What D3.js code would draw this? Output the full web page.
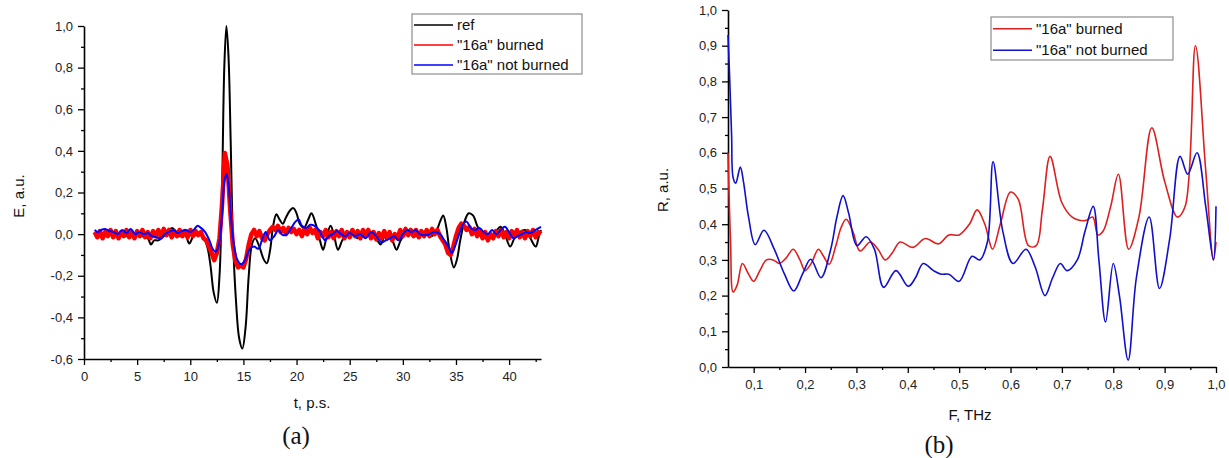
<!DOCTYPE html>
<html>
<head>
<meta charset="utf-8">
<script src="https://cdn.jsdelivr.net/npm/d3@7/dist/d3.min.js"></script>
<style>
  html, body { margin: 0; padding: 0; background: #fff; }
  svg { display: block; }
  .tick text { font-family: "Liberation Sans", Arial, sans-serif; }
</style>
</head>
<body>
<svg id="chart" width="1229" height="458"></svg>
<script>
// ---------------- DATA: panel (a) time domain ----------------
const seriesNamesA = ['ref', '"16a" burned', '"16a" not burned'];
const colorsA = ['#000000', '#ff0000', '#0000ff'];

const tRef = [1.0,1.5,2.0,2.5,3.0,3.5,4.0,4.5,5.0,5.5,6.0,6.3,6.6,7.0,7.5,8.0,8.3,8.7,9.0,9.5,9.9,10.3,10.8,11.2,11.6,11.9,12.2,12.5,12.75,13.0,13.2,13.4,13.6,13.8,14.0,14.3,14.6,14.9,15.2,15.5,15.8,16.1,16.5,16.9,17.2,17.5,17.8,18.1,18.4,18.7,19.0,19.4,19.7,20.0,20.3,20.7,21.1,21.4,21.8,22.2,22.5,22.8,23.2,23.5,23.9,24.3,24.7,25.2,25.7,26.2,26.7,27.2,27.6,27.9,28.3,28.7,29.1,29.4,29.8,30.2,30.7,31.2,31.7,32.2,32.7,33.2,33.5,33.8,34.1,34.4,34.8,35.1,35.4,35.8,36.2,36.6,37.0,37.4,37.8,38.2,38.7,39.2,39.6,40.1,40.5,41.0,41.5,42.0,42.5,42.8,43.0];
const eRef = [0.0,-0.01,0.0,0.01,-0.005,0.0,-0.01,0.005,0.0,-0.01,-0.02,-0.05,-0.03,-0.03,-0.01,0.02,0.03,0.01,-0.01,0.0,-0.045,-0.01,0.0,-0.01,-0.06,-0.15,-0.28,-0.33,-0.2,0.25,0.8,1.0,0.85,0.45,0.0,-0.32,-0.5,-0.55,-0.45,-0.2,-0.05,-0.02,-0.06,-0.12,-0.14,-0.08,0.04,0.095,0.07,0.05,0.08,0.115,0.125,0.1,0.05,0.03,0.07,0.1,0.05,-0.03,-0.075,-0.02,0.04,0.0,-0.075,-0.03,0.0,0.01,-0.02,0.0,0.02,-0.01,-0.03,-0.05,-0.01,0.0,-0.04,-0.075,-0.03,0.0,0.02,-0.01,0.0,0.01,-0.01,0.02,0.06,0.09,0.03,-0.08,-0.16,-0.12,-0.03,0.06,0.1,0.09,0.04,0.0,-0.02,-0.01,0.01,0.035,0.0,-0.06,-0.02,0.01,0.02,-0.02,-0.06,-0.01,0.02];

// burned: sampled every 0.25 ps from 1 to 43
const tBurnedStart = 1, tBurnedStep = 0.25;
const eBurned = [
  0.01,-0.015,0.015,-0.02, 0.01,-0.01,0.02,-0.015, 0.015,-0.02,0.01,-0.01, 0.02,-0.015,0.01,-0.02,
  0.015,-0.01,0.02,-0.015, 0.01,-0.02,0.015,-0.01, 0.02,-0.015,0.025,-0.005, 0.02,-0.015,0.015,-0.01,
  0.02,-0.01,0.015,-0.015, 0.02,-0.01,0.015,-0.005, 0.01,-0.02,-0.03,-0.06, -0.09,-0.125,-0.09,-0.02,
  0.15,0.39,0.33,0.12, -0.05,-0.13,-0.16,-0.15, -0.16,-0.12,-0.05,0.0, 0.02,-0.01,0.015,-0.02,
  -0.03,0.0,0.02,0.035, 0.02,0.04,0.01,0.03, 0.0,0.03,0.01,0.025, 0.0,0.02,-0.01,0.025,
  0.0,0.03,0.005,0.02, -0.02,0.01,-0.01,0.02, -0.015,0.01,-0.02,0.015, -0.01,0.02,-0.02,0.01,
  -0.015,0.02,-0.01,0.015, -0.02,0.02,-0.005,0.02, -0.02,0.01,-0.025,0.005, -0.02,0.015,-0.02,0.01,
  -0.03,0.0,-0.02,0.02, -0.01,0.025,-0.005,0.02, -0.01,0.02,-0.015,0.015, -0.01,0.02,-0.01,0.025,
  0.0,0.02,-0.01,-0.03, -0.05,-0.09,-0.1,-0.06, -0.01,0.03,0.05,0.04, 0.02,0.035,0.0,0.025,
  -0.01,0.02,-0.02,0.01, -0.03,0.0,-0.02,0.015, -0.01,0.02,-0.015,0.01, -0.02,0.015,-0.01,0.02,
  -0.015,0.01,-0.02,0.015, -0.01,0.02,-0.015,0.01, 0.0];

const tNot = [1.0,1.3,1.6,2.0,2.4,2.8,3.2,3.6,4.0,4.4,4.8,5.2,5.6,6.0,6.4,6.8,7.2,7.6,8.0,8.4,8.8,9.2,9.6,10.0,10.4,10.7,11.0,11.4,11.8,12.1,12.4,12.7,13.0,13.2,13.4,13.6,13.8,14.1,14.4,14.8,15.2,15.6,16.0,16.4,16.8,17.1,17.5,17.9,18.3,18.7,19.1,19.5,19.9,20.2,20.5,20.9,21.3,21.7,22.1,22.4,22.7,23.0,23.4,23.8,24.2,24.6,25.0,25.5,26.0,26.5,27.0,27.5,28.0,28.4,28.8,29.2,29.6,30.0,30.4,30.8,31.2,31.6,32.0,32.5,33.0,33.5,33.9,34.3,34.6,34.9,35.3,35.7,36.0,36.4,36.8,37.2,37.6,38.0,38.4,38.8,39.2,39.6,40.0,40.4,40.8,41.2,41.6,42.0,42.5,43.0];
const eNot = [0.02,0.01,0.02,0.025,0.015,0.01,0.0,0.02,0.005,0.025,0.0,0.01,0.0,0.005,-0.01,-0.015,-0.02,0.0,0.01,0.02,0.005,0.015,0.02,0.01,0.025,0.04,0.03,0.01,-0.03,-0.07,-0.085,-0.05,0.1,0.25,0.29,0.24,0.1,-0.05,-0.12,-0.145,-0.12,-0.07,-0.06,-0.07,-0.02,0.01,-0.03,-0.01,0.02,-0.005,0.0,0.03,0.06,0.07,0.04,0.03,0.045,0.04,0.02,-0.01,-0.03,-0.01,0.0,0.015,0.0,-0.01,0.005,-0.01,0.0,-0.02,0.01,-0.01,-0.04,-0.03,-0.02,-0.01,-0.03,0.0,0.02,0.01,0.02,0.0,-0.005,0.0,0.01,0.0,-0.03,-0.06,-0.09,-0.06,0.0,0.05,0.06,0.03,0.02,0.03,0.01,0.0,0.02,0.0,0.02,0.035,0.01,-0.02,-0.01,0.0,0.01,0.005,0.02,0.035];

const xTicksA = [0,5,10,15,20,25,30,35,40];
const yTicksA = [-0.6,-0.4,-0.2,0.0,0.2,0.4,0.6,0.8,1.0];

// ---------------- DATA: panel (b) frequency domain ----------------
const seriesNamesB = ['"16a" burned', '"16a" not burned'];
const colorsB = ['#dd1f1f', '#1010cc'];

const fBurned = [0.05,0.055,0.06,0.068,0.078,0.09,0.1,0.112,0.125,0.138,0.15,0.163,0.177,0.19,0.2,0.212,0.226,0.236,0.247,0.26,0.27,0.28,0.293,0.307,0.327,0.342,0.356,0.37,0.385,0.41,0.434,0.46,0.48,0.5,0.52,0.535,0.55,0.565,0.58,0.6,0.615,0.635,0.65,0.662,0.677,0.7,0.72,0.745,0.76,0.77,0.78,0.795,0.81,0.83,0.85,0.875,0.9,0.925,0.94,0.96,0.98,0.995,1.0];
const rBurned = [0.6,0.35,0.21,0.23,0.29,0.26,0.24,0.27,0.3,0.3,0.29,0.305,0.33,0.3,0.27,0.29,0.33,0.31,0.288,0.34,0.39,0.414,0.38,0.325,0.35,0.33,0.3,0.32,0.35,0.335,0.36,0.345,0.37,0.37,0.4,0.44,0.4,0.33,0.4,0.49,0.47,0.34,0.34,0.44,0.59,0.46,0.42,0.41,0.42,0.37,0.38,0.45,0.54,0.33,0.42,0.67,0.52,0.42,0.45,0.9,0.55,0.3,0.35];

const fNot = [0.05,0.053,0.057,0.06,0.065,0.074,0.08,0.09,0.103,0.12,0.14,0.16,0.178,0.195,0.211,0.231,0.25,0.262,0.274,0.285,0.301,0.319,0.335,0.353,0.377,0.401,0.415,0.43,0.45,0.465,0.48,0.5,0.525,0.54,0.555,0.566,0.585,0.605,0.63,0.648,0.667,0.682,0.697,0.71,0.73,0.745,0.761,0.772,0.785,0.8,0.812,0.829,0.845,0.87,0.89,0.91,0.93,0.945,0.963,0.98,0.995,1.0];
const rNot = [0.93,0.82,0.65,0.53,0.515,0.56,0.52,0.42,0.343,0.383,0.33,0.26,0.213,0.26,0.302,0.25,0.33,0.42,0.48,0.43,0.34,0.365,0.33,0.223,0.27,0.226,0.25,0.29,0.27,0.26,0.26,0.24,0.31,0.3,0.35,0.575,0.38,0.29,0.33,0.28,0.2,0.25,0.29,0.27,0.3,0.38,0.45,0.3,0.126,0.29,0.2,0.019,0.25,0.42,0.22,0.36,0.59,0.54,0.6,0.45,0.3,0.45];

const xTicksB = [0.1,0.2,0.3,0.4,0.5,0.6,0.7,0.8,0.9,1.0];
const yTicksB = [0.0,0.1,0.2,0.3,0.4,0.5,0.6,0.7,0.8,0.9,1.0];

// ---------------- DRAWING ----------------
const svg = d3.select('#chart');
const FONT = '"Liberation Sans", Arial, sans-serif';
const fmtComma = d => d3.format('.1f')(d).replace('.', ',').replace('−', '-');
const fmtInt = d3.format('d');

function drawAxes(g, x, y, xMajor, xMinor, yMajor, yMinor, xFmt, yFmt) {
  const [x0] = x.range(); const [y0] = y.range();
  g.append('g').attr('transform', `translate(0,${y0})`)
    .call(d3.axisBottom(x).tickValues(xMinor).tickSize(3).tickFormat(''))
    .call(a => a.select('.domain').remove())
    .selectAll('line').attr('stroke', '#000').attr('stroke-width', 1.3);
  g.append('g').attr('transform', `translate(${x0},0)`)
    .call(d3.axisLeft(y).tickValues(yMinor).tickSize(3).tickFormat(''))
    .call(a => a.select('.domain').remove())
    .selectAll('line').attr('stroke', '#000').attr('stroke-width', 1.3);
  const xa = g.append('g').attr('transform', `translate(0,${y0})`)
    .call(d3.axisBottom(x).tickValues(xMajor).tickSize(6).tickSizeOuter(0).tickPadding(7).tickFormat(xFmt));
  const ya = g.append('g').attr('transform', `translate(${x0},0)`)
    .call(d3.axisLeft(y).tickValues(yMajor).tickSize(6).tickSizeOuter(0).tickPadding(5).tickFormat(yFmt));
  [xa, ya].forEach(a => {
    a.select('.domain').attr('stroke', '#000').attr('stroke-width', 1.6);
    a.selectAll('line').attr('stroke', '#000').attr('stroke-width', 1.3);
    a.selectAll('text').attr('font-size', 13).attr('fill', '#222').attr('font-family', FONT);
  });
}

function legend(g, x, y, w, h, names, colors, rowH) {
  g.append('rect').attr('x', x).attr('y', y).attr('width', w).attr('height', h)
    .attr('fill', '#fff').attr('stroke', '#777').attr('stroke-width', 1);
  names.forEach((n, i) => {
    const cy = y + rowH * (i + 0.5) + 1;
    g.append('line').attr('x1', x + 2).attr('x2', x + 41).attr('y1', cy).attr('y2', cy)
      .attr('stroke', colors[i]).attr('stroke-width', 1.6);
    g.append('text').attr('x', x + 45).attr('y', cy + 5).text(n)
      .attr('font-family', FONT).attr('font-size', 15).attr('fill', '#111');
  });
}

// ----- panel (a)
{
  const g = svg.append('g');
  const x = d3.scaleLinear().domain([0, 43]).range([84, 541]);
  const y = d3.scaleLinear().domain([-0.6, 1.0]).range([359, 26]);
  drawAxes(g, x, y, xTicksA, d3.range(2.5, 43, 5), yTicksA, d3.range(-0.5, 1.0, 0.2),
    fmtInt, fmtComma);

  const tBurned = eBurned.map((_, i) => tBurnedStart + i * tBurnedStep);
  g.append('path').datum(d3.zip(tRef, eRef))
    .attr('d', d3.line().x(d => x(d[0])).y(d => y(d[1])).curve(d3.curveCatmullRom.alpha(0.5)))
    .attr('fill', 'none').attr('stroke', colorsA[0]).attr('stroke-width', 2);
  g.append('path').datum(d3.zip(tBurned, eBurned))
    .attr('d', d3.line().x(d => x(d[0])).y(d => y(d[1])))
    .attr('fill', 'none').attr('stroke', colorsA[1]).attr('stroke-width', 4.5).attr('stroke-linejoin', 'round');
  g.append('path').datum(d3.zip(tNot, eNot))
    .attr('d', d3.line().x(d => x(d[0])).y(d => y(d[1])).curve(d3.curveCatmullRom.alpha(0.5)))
    .attr('fill', 'none').attr('stroke', colorsA[2]).attr('stroke-width', 2);

  legend(g, 412, 14, 170, 60, seriesNamesA, colorsA, 20);

  g.append('text').attr('transform', 'translate(24,196) rotate(-90)').attr('text-anchor', 'middle')
    .attr('font-family', FONT).attr('font-size', 15).attr('fill', '#111').text('E, a.u.');
  g.append('text').attr('x', 312).attr('y', 408).attr('text-anchor', 'middle')
    .attr('font-family', FONT).attr('font-size', 15).attr('fill', '#111').text('t, p.s.');
  g.append('text').attr('x', 296).attr('y', 444).attr('text-anchor', 'middle')
    .attr('font-family', '"Liberation Serif", "DejaVu Serif", serif').attr('font-size', 25).attr('fill', '#111').text('(a)');
}

// ----- panel (b)
{
  const g = svg.append('g');
  const x = d3.scaleLinear().domain([0.05, 1.0]).range([728, 1216]);
  const y = d3.scaleLinear().domain([0, 1.0]).range([367, 10]);
  drawAxes(g, x, y, xTicksB, d3.range(0.15, 1.0, 0.1), yTicksB, d3.range(0.05, 1.0, 0.1),
    fmtComma, fmtComma);

  const line = d3.line().x(d => x(d[0])).y(d => y(d[1])).curve(d3.curveCatmullRom.alpha(0.5));
  g.append('path').datum(d3.zip(fBurned, rBurned)).attr('d', line)
    .attr('fill', 'none').attr('stroke', colorsB[0]).attr('stroke-width', 1.6);
  g.append('path').datum(d3.zip(fNot, rNot)).attr('d', line)
    .attr('fill', 'none').attr('stroke', colorsB[1]).attr('stroke-width', 1.6);

  legend(g, 991, 17, 182, 43, seriesNamesB, colorsB, 21.5);

  g.append('text').attr('transform', 'translate(668,190) rotate(-90)').attr('text-anchor', 'middle')
    .attr('font-family', FONT).attr('font-size', 15).attr('fill', '#111').text('R, a.u.');
  g.append('text').attr('x', 970).attr('y', 420).attr('text-anchor', 'middle')
    .attr('font-family', FONT).attr('font-size', 15).attr('fill', '#111').text('F, THz');
  g.append('text').attr('x', 939).attr('y', 453).attr('text-anchor', 'middle')
    .attr('font-family', '"Liberation Serif", "DejaVu Serif", serif').attr('font-size', 25).attr('fill', '#111').text('(b)');
}
</script>
</body>
</html>
